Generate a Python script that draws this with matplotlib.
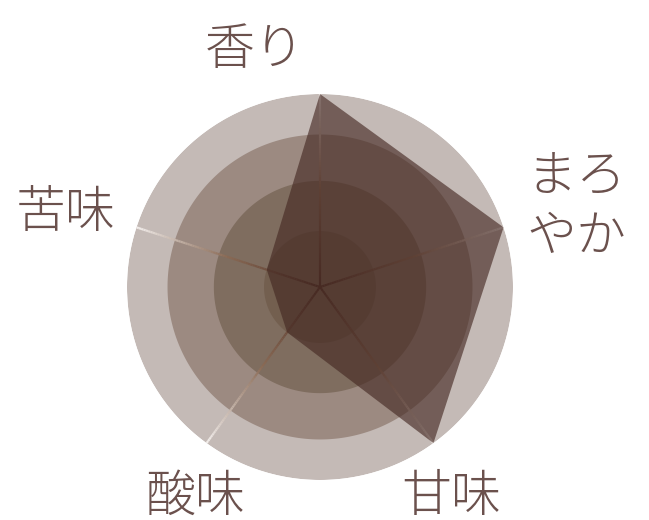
import numpy as np
import matplotlib.pyplot as plt
from matplotlib.collections import LineCollection
from matplotlib.colors import LinearSegmentedColormap

plt.rcParams['font.family'] = ['Noto Sans CJK JP', 'DejaVu Sans']

# Chart data (radius as a fraction of the outer ring)
labels = ["香り", "まろやか", "甘味", "酸味", "苦味"]
values = [1.0, 1.0, 1.0, 0.29, 0.29]
ring_radii = [1.0, 0.79, 0.55, 0.29]
ring_colors = ["#c4bab6", "#9c8a81", "#7f6d5f", "#735f4f"]

text_color = "#6b514d"
poly_color = "#452923"

fig = plt.figure(figsize=(6.49, 5.2), dpi=100)
ax = fig.add_axes([127 / 649, 40 / 520, 386 / 649, 386 / 520], projection="polar")
ax.set_theta_offset(np.pi / 2)
ax.set_theta_direction(-1)
ax.set_ylim(0, 1)
ax.axis("off")

# background rings
full = np.linspace(0, 2 * np.pi, 361)
for r, c in zip(ring_radii, ring_colors):
    ax.fill(full, np.full_like(full, r), color=c, lw=0, zorder=1)

# spokes with a dark-to-light gradient
n = len(labels)
angles = np.arange(n) * 2 * np.pi / n
cmap = LinearSegmentedColormap.from_list("spoke", ["#4b2c22", "#8a6a55", "#f4f0ee"])
steps = np.linspace(0, 1, 80)
for a in angles:
    pts = np.column_stack([np.full_like(steps, a), steps])
    segs = np.stack([pts[:-1], pts[1:]], axis=1)
    lc = LineCollection(segs, colors=cmap(steps[:-1]), linewidths=1.6, zorder=2)
    ax.add_collection(lc)

# data polygon
theta = np.append(angles, angles[0])
vals = np.append(values, values[0])
ax.fill(theta, vals, color=poly_color, alpha=0.64, lw=0, zorder=3)

# labels
fs = 36
fig.text(255 / 649, 1 - 50 / 520, labels[0], ha="center", va="center",
         fontsize=fs, color=text_color, fontweight="light")
fig.text(576 / 649, 1 - 208 / 520, "まろ\nやか", ha="center", va="center",
         fontsize=fs, color=text_color, fontweight="light", linespacing=1.2)
fig.text(451 / 649, 1 - 497 / 520, labels[2], ha="center", va="center",
         fontsize=fs, color=text_color, fontweight="light")
fig.text(195 / 649, 1 - 497 / 520, labels[3], ha="center", va="center",
         fontsize=fs, color=text_color, fontweight="light")
fig.text(66 / 649, 1 - 213 / 520, labels[4], ha="center", va="center",
         fontsize=fs, color=text_color, fontweight="light")

fig.savefig("out.png", dpi=100)
